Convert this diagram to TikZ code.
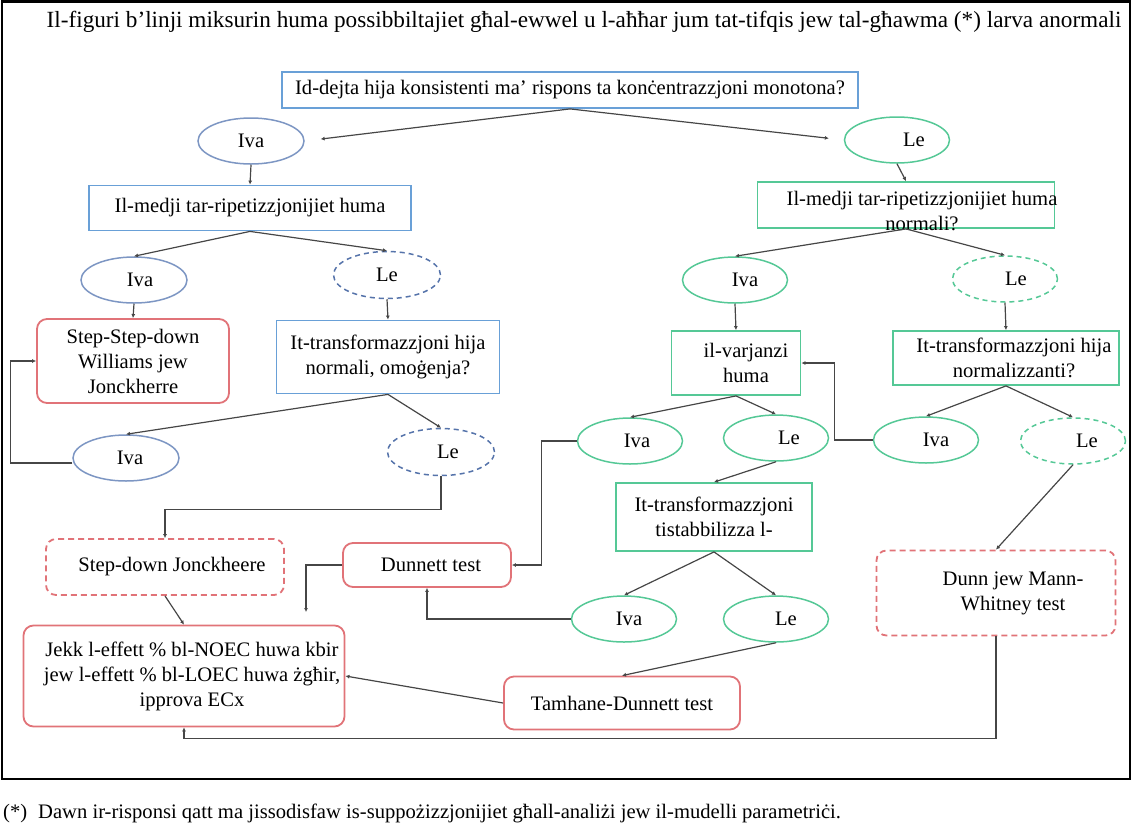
\documentclass[tikz,border=0pt]{standalone}
\usepackage{fontspec}
\setmainfont{Liberation Serif}
\usepackage{xcolor}
\usetikzlibrary{arrows.meta,positioning,shapes.geometric}
\definecolor{qBlue}{RGB}{105,160,215}
\definecolor{ellBlue}{RGB}{125,150,195}
\definecolor{ellBlueDk}{RGB}{85,115,170}
\definecolor{okGreen}{RGB}{85,200,150}
\definecolor{testRed}{RGB}{225,115,120}
\definecolor{linkGray}{RGB}{70,70,70}

\begin{document}
\begin{tikzpicture}[
  x=1pt, y=-1pt,
  every node/.style={font=\fontsize{20.6}{25}\selectfont, align=center, inner sep=0pt},
  dims/.style 2 args={minimum width=#1, minimum height=#2},
  nudge/.style={execute at begin node={\hspace*{#1}}},
  qbox/.style={draw=qBlue, line width=1.8pt},
  qgreen/.style={draw=okGreen, line width=1.8pt},
  testbox/.style={draw=testRed, line width=1.8pt, rounded corners=10pt},
  testalt/.style={testbox, dash pattern=on 6pt off 4pt},
  yesblue/.style={ellipse, draw=ellBlue, line width=1.5pt, dims={106}{46}},
  noblue/.style={ellipse, draw=ellBlueDk, line width=1.5pt, dash pattern=on 5pt off 4pt, dims={107}{47}},
  yesgreen/.style={ellipse, draw=okGreen, line width=1.5pt, dims={105}{46}},
  nogreen/.style={yesgreen, dash pattern=on 5pt off 4pt},
  arrow/.style={-{Latex[length=4pt,width=4pt]}, draw=linkGray, line width=1.2pt}
]
\useasboundingbox (0,0) rectangle (1133,831);
\draw[line width=2.5pt] (2,1.5) rectangle (1130,779);

% heading and footnote
\node[anchor=base, font=\fontsize{23.2}{27}\selectfont] (title) at (584,27)
  {Il-figuri b’linji miksurin huma possibbiltajiet għal-ewwel u l-aħħar jum tat-tifqis jew tal-għawma (*) larva anormali};
\node[anchor=base west] (starNote) at (3,818) {(*)};
\node[anchor=base west] (footNote) at (38,818)
  {Dawn ir-risponsi qatt ma jissodisfaw is-suppożizzjonijiet għall-analiżi jew il-mudelli parametriċi.};

% top question
\node[qbox, dims={576}{36}] (q1) at (570,90) {Id-dejta hija konsistenti ma’ rispons ta konċentrazzjoni monotona?};

% left branch
\node[yesblue] (ivaA) at (251,141) {Iva};
\node[qbox, dims={322}{45}] (medjiA) at (250,208) {Il-medji tar-ripetizzjonijiet huma};
\node[yesblue, nudge=12pt] (ivaB) at (134,280) {Iva};
\node[noblue] (leB) at (387,275) {Le};
\node[testbox, dims={192}{84}] (stepWill) at (133,361) {Step-Step-down\\Williams jew\\Jonckherre};
\node[qbox, dims={223}{73}] (transA) at (388,357) {It-transformazzjoni hija\\normali, omoġenja?};
\node[yesblue, nudge=8pt] (ivaC) at (126,458) {Iva};
\node[noblue, nudge=14pt] (leC) at (441,452) {Le};
\node[testalt, dims={238}{56}, nudge=14pt] (stepJonck) at (165,567) {Step-down Jonckheere};
\node[testbox, dims={321}{101}, nudge=16pt] (ecx) at (184,676)
  {Jekk l-effett \% bl-NOEC huwa kbir\\jew l-effett \% bl-LOEC huwa żgħir,\\ipprova ECx};
\node[testbox, dims={168}{44}, nudge=8pt] (dunnett) at (427,565) {Dunnett test};
\node[testbox, dims={236}{53}] (tamhane) at (622,703) {Tamhane-Dunnett test};
\coordinate (dunnettEnd) at (306,612);

% right branch
\node[yesgreen, nudge=34pt] (leN) at (897,140) {Le};
\node[qgreen, dims={297}{46}] (medjiN) at (906,205) {};
\node (medjiNtxt) at (922,211) {Il-medji tar-ripetizzjonijiet huma\\normali?};
\node[yesgreen, nudge=20pt] (ivaN) at (735,280) {Iva};
\node[nogreen, nudge=22pt] (leNd) at (1005,279) {Le};
\node[qgreen, dims={129}{64}, nudge=20pt] (varj) at (736,363) {il-varjanzi\\huma};
\node[qgreen, dims={226}{54}, nudge=16pt] (transN) at (1006,358) {It-transformazzjoni hija\\normalizzanti?};
\node[yesgreen, nudge=14pt] (ivaV) at (630,441) {Iva};
\node[yesgreen, nudge=26pt] (leV) at (776,438) {Le};
\node[yesgreen, nudge=20pt] (ivaT) at (926,440) {Iva};
\node[nogreen, nudge=28pt] (leT) at (1073,441) {Le};
\node[qgreen, dims={196}{68}] (stab) at (714,517) {It-transformazzjoni\\tistabbilizza l-};
\node[yesgreen, nudge=10pt] (ivaS) at (624,619) {Iva};
\node[yesgreen, nudge=20pt] (leS) at (776,619) {Le};
\node[testalt, dims={239}{85}, nudge=34pt] (dunn) at (996,593) {Dunn jew Mann-\\Whitney test};

% connectors, left
\draw[arrow, shorten >=16pt] (q1.south) -- (ivaA.east);
\draw[arrow, shorten >=15pt] (q1.south) -- (leN.west);
\draw[arrow] (ivaA.south) -- (medjiA.north);
\draw[arrow] (medjiA.south) -- (ivaB.north);
\draw[arrow] (medjiA.south) -- (leB.north);
\draw[arrow] (ivaB.south) -- (stepWill.north);
\draw[arrow] (leB.south) -- (transA.north);
\draw[arrow] (transA.south) -- (ivaC.north);
\draw[arrow] (transA.south) -- (leC.north);
\draw[arrow] ([yshift=-5]ivaC.west) -- ++(-62,0) |- (stepWill.west);
\draw[arrow] (leC.south) -- ++(0,33) -| (stepJonck.north);
\draw[arrow] (stepJonck.south) -- (ecx.north);
\draw[arrow] (tamhane.west) -- (ecx.east);
\draw[arrow] (dunn.south) -- ++(0,102) -| (ecx.south);
\draw[arrow] (dunnett.west) -| (dunnettEnd);
\draw[arrow] (ivaV.west) -- ++(-35,0) |- (dunnett.east);
\draw[arrow] (ivaS.west) -| (dunnett.south);

% connectors, right
\draw[arrow] (leN.south) -- (medjiN.north);
\draw[arrow] (medjiN.south) -- (ivaN.north);
\draw[arrow] (medjiN.south) -- (leNd.north);
\draw[arrow] (ivaN.south) -- (varj.north);
\draw[arrow] (leNd.south) -- (transN.north);
\draw[arrow] (varj.south) -- (ivaV.north);
\draw[arrow] (varj.south) -- (leV.north);
\draw[arrow] (transN.south) -- (ivaT.north);
\draw[arrow] (transN.south) -- (leT.north);
\draw[arrow] (ivaT.west) -- ++(-38,0) |- (varj.east);
\draw[arrow] (leV.south) -- (stab.north);
\draw[arrow] (stab.south) -- (ivaS.north);
\draw[arrow] (stab.south) -- (leS.north);
\draw[arrow] (leS.south) -- (tamhane.north);
\draw[arrow] (leT.south) -- (dunn.north);
\end{tikzpicture}
\end{document}
